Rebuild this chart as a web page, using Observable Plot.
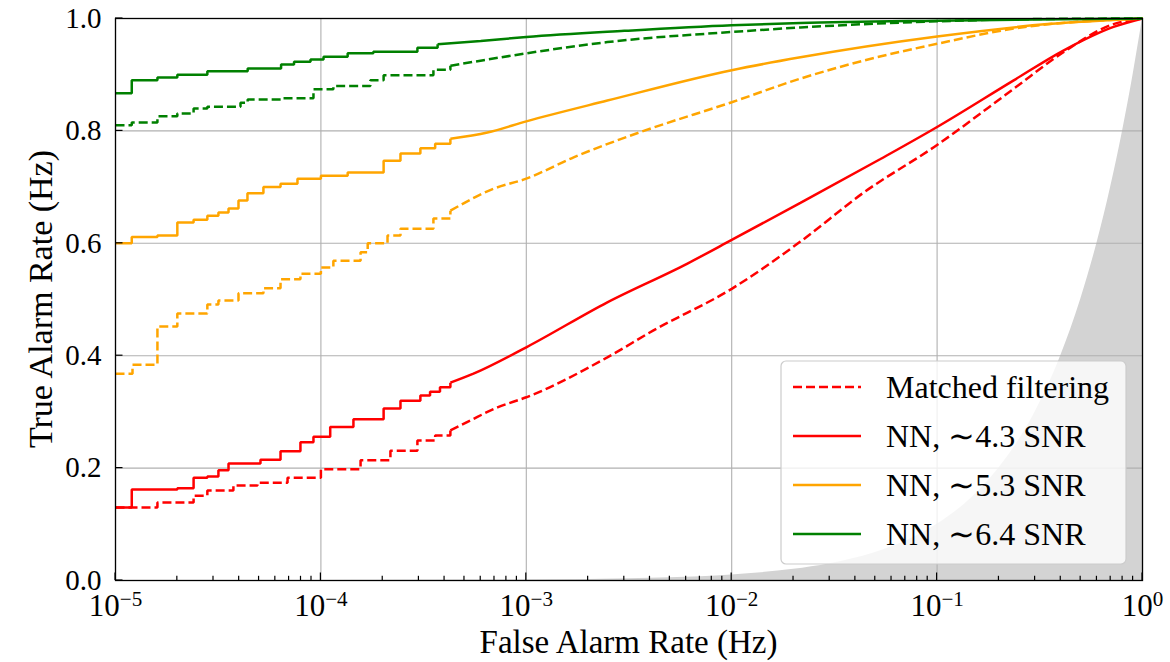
<!DOCTYPE html>
<html><head><meta charset="utf-8">
<script src="https://cdn.jsdelivr.net/npm/d3@7"></script>
<script src="https://cdn.jsdelivr.net/npm/@observablehq/plot@0.6"></script>
<style>
body{margin:0;background:#fff}
#chart svg{font-family:"Liberation Serif",serif}
</style>
</head><body><div id="chart"></div>
<script>
// ---- axis ticks ----
const xTicks = [1e-5, 1e-4, 1e-3, 1e-2, 1e-1, 1];
const xTickExps = ["\u22125", "\u22124", "\u22123", "\u22122", "\u22121", "0"];
const yTicks = [0, 0.2, 0.4, 0.6, 0.8, 1.0];
const yTickLabels = ["0.0", "0.2", "0.4", "0.6", "0.8", "1.0"];
const xLabel = "False Alarm Rate (Hz)";
const yLabel = "True Alarm Rate (Hz)";

// ---- legend ----
const legendNames = ["Matched filtering", "NN, \u223c4.3 SNR", "NN, \u223c5.3 SNR", "NN, \u223c6.4 SNR"];
const legendColors = ["#ff0000", "#ff0000", "#ffa500", "#008000"];
const legendDashed = [true, false, false, false];

// ---- chance line (random classifier, TAR = FAR) ----
const chanceX = [1e-5, 1e-4, 1e-3, 2e-3, 5e-3, 1e-2, 2e-2, 3e-2, 5e-2, 0.07, 0.1, 0.15, 0.2, 0.3, 0.4, 0.5, 0.6, 0.7, 0.8, 0.9, 1];

// ---- series: [FAR, TAR]; "Step" = staircase part, "Smooth" = dense part ----
const nn43Step = [[1e-5,0.13],[1.2e-5,0.162],[2.0e-5,0.164],[2.4e-5,0.183],[2.8e-5,0.185],[3.17e-5,0.196],[3.55e-5,0.208],[5.08e-5,0.215],[6.36e-5,0.23],[7.95e-5,0.246],[9.2e-5,0.256],[1.11e-4,0.273],[1.44e-4,0.287],[2.02e-4,0.306],[2.44e-4,0.32],[3.05e-4,0.329],[3.4e-4,0.336],[3.8e-4,0.344],[4.27e-4,0.352]];
const nn43Smooth = [[4.27e-4,0.352],[5.53e-4,0.368],[1e-3,0.415],[2.48e-3,0.495],[6.09e-3,0.564],[1e-2,0.606],[2.16e-2,0.672],[5.3e-2,0.75],[0.1,0.807],[0.236,0.89],[0.412,0.943],[0.723,0.985],[1,1]];
const mf43Step = [[1e-5,0.13],[1.6e-5,0.139],[2.4e-5,0.151],[2.8e-5,0.16],[3.75e-5,0.169],[4.91e-5,0.174],[6.88e-5,0.183],[1e-4,0.198],[1.56e-4,0.214],[2.18e-4,0.231],[2.95e-4,0.249],[3.6e-4,0.258],[4.27e-4,0.267]];
const mf43Smooth = [[4.27e-4,0.267],[5.35e-4,0.285],[7.24e-4,0.308],[1e-3,0.326],[2.48e-3,0.397],[4.16e-3,0.445],[1e-2,0.519],[2.16e-2,0.603],[4.38e-2,0.69],[0.1,0.775],[0.236,0.875],[0.412,0.94],[0.723,0.99],[1,1]];

const nn53Step = [[1e-5,0.6],[1.2e-5,0.611],[1.6e-5,0.614],[2.0e-5,0.637],[2.4e-5,0.642],[2.8e-5,0.649],[3.17e-5,0.655],[3.55e-5,0.662],[3.97e-5,0.676],[4.39e-5,0.689],[5.25e-5,0.70],[6.36e-5,0.706],[7.69e-5,0.715],[1e-4,0.72],[1.35e-4,0.726],[2.02e-4,0.747],[2.44e-4,0.76],[3.05e-4,0.769],[3.6e-4,0.777],[4.27e-4,0.786]];
const nn53Smooth = [[4.27e-4,0.786],[6.47e-4,0.797],[1e-3,0.817],[2.48e-3,0.854],[1e-2,0.908],[2.16e-2,0.931],[0.1,0.968],[0.345,0.99],[1,1]];
const mf53Step = [[1e-5,0.368],[1.21e-5,0.384],[1.6e-5,0.452],[2.0e-5,0.475],[2.8e-5,0.491],[3.17e-5,0.498],[3.97e-5,0.511],[5.25e-5,0.52],[6.36e-5,0.536],[7.95e-5,0.546],[1e-4,0.557],[1.15e-4,0.569],[1.56e-4,0.584],[1.69e-4,0.6],[2.11e-4,0.614],[2.44e-4,0.626],[3.53e-4,0.644],[4.27e-4,0.658]];
const mf53Smooth = [[4.27e-4,0.658],[6.92e-4,0.697],[1e-3,0.715],[1.7e-3,0.753],[3.6e-3,0.798],[1e-2,0.851],[2.16e-2,0.893],[4.38e-2,0.925],[0.1,0.955],[0.236,0.982],[1,1]];

const nn64Step = [[1e-5,0.867],[1.2e-5,0.89],[1.6e-5,0.895],[2.0e-5,0.90],[2.8e-5,0.906],[4.4e-5,0.911],[6.4e-5,0.918],[7.4e-5,0.923],[8.9e-5,0.927],[1.03e-4,0.932],[1.35e-4,0.938],[1.8e-4,0.941],[2.95e-4,0.948],[3.7e-4,0.954]];
const nn64Smooth = [[3.7e-4,0.954],[6e-4,0.96],[1e-3,0.967],[3e-3,0.978],[1e-2,0.988],[2.16e-2,0.992],[0.1,0.996],[0.3,0.998],[1,1]];
const mf64Step = [[1e-5,0.81],[1.2e-5,0.815],[1.6e-5,0.826],[2.0e-5,0.831],[2.4e-5,0.84],[2.8e-5,0.843],[4.06e-5,0.85],[4.4e-5,0.856],[6.4e-5,0.858],[9.2e-5,0.874],[1.15e-4,0.88],[1.74e-4,0.89],[2.02e-4,0.899],[3.53e-4,0.909],[4.27e-4,0.916]];
const mf64Smooth = [[4.27e-4,0.916],[1e-3,0.938],[2.48e-3,0.958],[1e-2,0.976],[2.16e-2,0.984],[0.1,0.995],[0.3,0.999],[1,1]];

const series = [
  {name: "nn43", color: "#ff0000", dashed: false, step: nn43Step, smooth: nn43Smooth},
  {name: "mf43", color: "#ff0000", dashed: true,  step: mf43Step, smooth: mf43Smooth},
  {name: "nn53", color: "#ffa500", dashed: false, step: nn53Step, smooth: nn53Smooth},
  {name: "mf53", color: "#ffa500", dashed: true,  step: mf53Step, smooth: mf53Smooth},
  {name: "nn64", color: "#008000", dashed: false, step: nn64Step, smooth: nn64Smooth},
  {name: "mf64", color: "#008000", dashed: true,  step: mf64Step, smooth: mf64Smooth}
];

const LW = 2.5, DASH = "9,4";
const lineMarks = [];
for (const s of series) {
  const opts = {x: d => d[0], y: d => d[1], stroke: s.color, strokeWidth: LW,
    strokeDasharray: s.dashed ? DASH : null, strokeLinejoin: "miter", strokeLinecap: "butt"};
  lineMarks.push(Plot.line(s.step, {...opts, curve: "step-after"}));
  lineMarks.push(Plot.line(s.smooth, {...opts, curve: "monotone-x"}));
}

const chart = Plot.plot({
  width: 1170, height: 662,
  marginLeft: 115, marginRight: 28, marginTop: 18, marginBottom: 82,
  style: {fontFamily: '"Liberation Serif", serif', background: "white", overflow: "visible", color: "black"},
  x: {type: "log", domain: [1e-5, 1]},
  y: {domain: [0, 1]},
  marks: [
    Plot.areaY(chanceX, {x: d => d, y: d => d, fill: "#d3d3d3", curve: "monotone-x"}),
    Plot.gridX(xTicks, {stroke: "#b0b0b0", strokeOpacity: 1, strokeWidth: 1.1}),
    Plot.gridY(yTicks, {stroke: "#b0b0b0", strokeOpacity: 1, strokeWidth: 1.1}),
    ...lineMarks,
    Plot.axisX(xTicks, {tickSize: 0, tickPadding: 13, fontSize: 31, tickFormat: (d, i) => "10" + xTickExps[i], label: null}),
    Plot.axisY(yTicks, {tickSize: 0, tickPadding: 14, fontSize: 29, tickFormat: (d, i) => yTickLabels[i], label: null}),
    Plot.frame({stroke: "black", strokeWidth: 1.3})
  ]
});

document.getElementById("chart").append(chart);

const svg = d3.select(chart);
const sx = chart.scale("x"), sy = chart.scale("y");

// superscript exponents on x tick labels
svg.selectAll('g[aria-label="x-axis tick label"] text').each(function(d, i) {
  const t = d3.select(this);
  t.text("");
  t.append("tspan").text("10");
  t.append("tspan").attr("dy", "-0.45em").attr("font-size", "0.68em").text(xTickExps[i]);
});

// axis titles, centred on the frame
const xL = sx.apply(1e-5), xR = sx.apply(1), y0 = sy.apply(0), y1 = sy.apply(1);
svg.append("text").attr("x", (xL + xR) / 2).attr("y", 653).attr("text-anchor", "middle")
  .attr("font-size", 33).attr("fill", "black").text(xLabel);
svg.append("text").attr("transform", `translate(52,${(y0 + y1) / 2}) rotate(-90)`).attr("text-anchor", "middle")
  .attr("font-size", 34).attr("fill", "black").text(yLabel);

// inward ticks (major + minor) on bottom and left
const tg = svg.append("g").attr("stroke", "black").attr("stroke-width", 1.2);
for (const v of xTicks) {
  const px = sx.apply(v);
  tg.append("line").attr("x1", px).attr("x2", px).attr("y1", y0).attr("y2", y0 - 7.5);
}
const minor = d3.scaleLog().domain([1e-5, 1]).ticks().filter(v => !xTicks.some(t => Math.abs(t - v) / t < 1e-9));
for (const v of minor) {
  const px = sx.apply(v);
  tg.append("line").attr("x1", px).attr("x2", px).attr("y1", y0).attr("y2", y0 - 4.2);
}
for (const v of yTicks) {
  const py = sy.apply(v);
  tg.append("line").attr("x1", xL).attr("x2", xL + 7.5).attr("y1", py).attr("y2", py);
}

// legend
const lg = svg.append("g").attr("text-anchor", "start");
const lx = 781, ly = 361, lw = 345, lh = 203;
lg.append("rect").attr("x", lx).attr("y", ly).attr("width", lw).attr("height", lh).attr("rx", 5)
  .attr("fill", "white").attr("fill-opacity", 0.8).attr("stroke", "#cccccc").attr("stroke-width", 1.2);
legendNames.forEach((name, i) => {
  const cy = 387 + i * 49;
  lg.append("line").attr("x1", 793).attr("x2", 861).attr("y1", cy).attr("y2", cy)
    .attr("stroke", legendColors[i]).attr("stroke-width", LW)
    .attr("stroke-dasharray", legendDashed[i] ? DASH : null);
  lg.append("text").attr("x", 886).attr("y", cy + 11).attr("font-size", 32).attr("fill", "black")
    .attr("text-anchor", "start").text(name);
});
</script>
</body></html>
